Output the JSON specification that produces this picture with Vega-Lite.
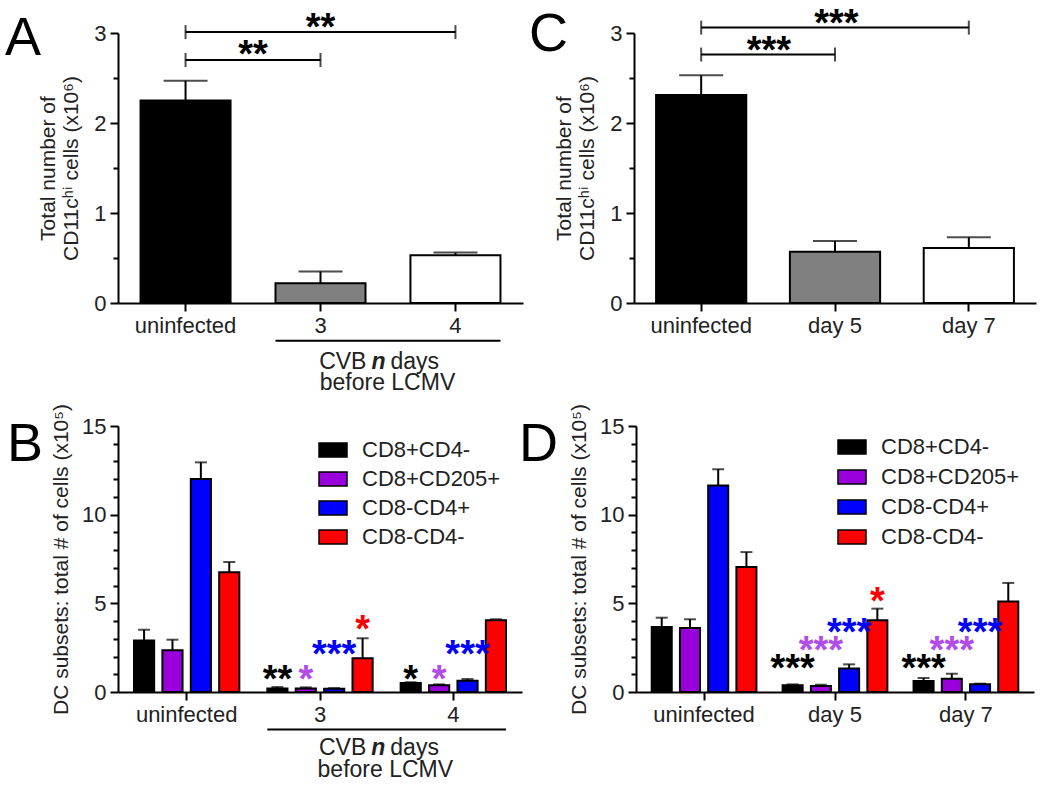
{
  "$schema": "https://vega.github.io/schema/vega-lite/v6.json",
  "background": "white",
  "padding": {"left": 5, "top": 5, "right": 5, "bottom": 5},
  "config": {
    "font": "Liberation Sans",
    "view": {"stroke": null},
    "axis": {
      "labelFont": "Liberation Sans", "labelFontSize": 22, "labelColor": "#222222",
      "titleFont": "Liberation Sans", "titleFontSize": 21, "titleFontWeight": "normal", "titleColor": "#222222",
      "domainColor": "black", "domainWidth": 2, "tickColor": "black", "tickWidth": 2, "tickSize": 8,
      "grid": false, "labelPadding": 4
    },
    "title": {"font": "Liberation Sans", "fontWeight": "normal", "color": "black", "fontSize": 54, "anchor": "start", "frame": "group", "offset": 0}
  },
  "datasets": {
    "a": [
      {"g": "uninfected", "v": 2.25, "e": 2.47},
      {"g": "3", "v": 0.22, "e": 0.35},
      {"g": "4", "v": 0.53, "e": 0.56}
    ],
    "abr": [
      {"x1": "uninfected", "x2": "3", "y": 2.70, "sy": 2.83, "lab": "**"},
      {"x1": "uninfected", "x2": "4", "y": 3.01, "sy": 3.13, "lab": "**"}
    ],
    "aann": [{"g1": "3", "g2": "4", "ry": -0.42, "ty1": -0.656, "ty2": -0.89, "t1": "CVB", "t2": "n", "t3": "days", "t4": "before LCMV"}],
    "c": [
      {"g": "uninfected", "v": 2.31, "e": 2.53},
      {"g": "day 5", "v": 0.57, "e": 0.69},
      {"g": "day 7", "v": 0.61, "e": 0.73}
    ],
    "cbr": [
      {"x1": "uninfected", "x2": "day 5", "y": 2.76, "sy": 2.88, "lab": "***"},
      {"x1": "uninfected", "x2": "day 7", "y": 3.06, "sy": 3.18, "lab": "***"}
    ],
    "b": [
      {"g": "uninfected", "s": "CD8+CD4-", "v": 2.91, "e": 3.51},
      {"g": "uninfected", "s": "CD8+CD205+", "v": 2.35, "e": 2.95},
      {"g": "uninfected", "s": "CD8-CD4+", "v": 12.01, "e": 12.95},
      {"g": "uninfected", "s": "CD8-CD4-", "v": 6.75, "e": 7.33},
      {"g": "3", "s": "CD8+CD4-", "v": 0.2, "e": 0.28},
      {"g": "3", "s": "CD8+CD205+", "v": 0.2, "e": 0.26},
      {"g": "3", "s": "CD8-CD4+", "v": 0.18, "e": 0.22},
      {"g": "3", "s": "CD8-CD4-", "v": 1.9, "e": 3.03},
      {"g": "4", "s": "CD8+CD4-", "v": 0.51, "e": 0.55},
      {"g": "4", "s": "CD8+CD205+", "v": 0.38, "e": 0.43},
      {"g": "4", "s": "CD8-CD4+", "v": 0.64, "e": 0.73},
      {"g": "4", "s": "CD8-CD4-", "v": 4.04, "e": 4.1}
    ],
    "bs": [
      {"g": "3", "s": "CD8+CD4-", "lab": "**", "y": 1.16},
      {"g": "3", "s": "CD8+CD205+", "lab": "*", "y": 1.16},
      {"g": "3", "s": "CD8-CD4+", "lab": "***", "y": 2.57},
      {"g": "3", "s": "CD8-CD4-", "lab": "*", "y": 3.98},
      {"g": "4", "s": "CD8+CD4-", "lab": "*", "y": 1.16},
      {"g": "4", "s": "CD8+CD205+", "lab": "*", "y": 1.16},
      {"g": "4", "s": "CD8-CD4+", "lab": "***", "y": 2.57}
    ],
    "bann": [{"g1": "3", "g2": "4", "ry": -2.12, "ty1": -3.15, "ty2": -4.38, "t1": "CVB", "t2": "n", "t3": "days", "t4": "before LCMV"}],
    "d": [
      {"g": "uninfected", "s": "CD8+CD4-", "v": 3.67, "e": 4.19},
      {"g": "uninfected", "s": "CD8+CD205+", "v": 3.61, "e": 4.1},
      {"g": "uninfected", "s": "CD8-CD4+", "v": 11.65, "e": 12.56},
      {"g": "uninfected", "s": "CD8-CD4-", "v": 7.05, "e": 7.89},
      {"g": "day 5", "s": "CD8+CD4-", "v": 0.38, "e": 0.43},
      {"g": "day 5", "s": "CD8+CD205+", "v": 0.34, "e": 0.41},
      {"g": "day 5", "s": "CD8-CD4+", "v": 1.32, "e": 1.56},
      {"g": "day 5", "s": "CD8-CD4-", "v": 4.04, "e": 4.7},
      {"g": "day 7", "s": "CD8+CD4-", "v": 0.62, "e": 0.79},
      {"g": "day 7", "s": "CD8+CD205+", "v": 0.75, "e": 1.03},
      {"g": "day 7", "s": "CD8-CD4+", "v": 0.43, "e": 0.47},
      {"g": "day 7", "s": "CD8-CD4-", "v": 5.11, "e": 6.15}
    ],
    "ds": [
      {"g": "day 5", "s": "CD8+CD4-", "lab": "***", "y": 1.79},
      {"g": "day 5", "s": "CD8+CD205+", "lab": "***", "y": 2.82},
      {"g": "day 5", "s": "CD8-CD4+", "lab": "***", "y": 3.85},
      {"g": "day 5", "s": "CD8-CD4-", "lab": "*", "y": 5.58},
      {"g": "day 7", "s": "CD8+CD4-", "lab": "***", "y": 1.79},
      {"g": "day 7", "s": "CD8+CD205+", "lab": "***", "y": 2.82},
      {"g": "day 7", "s": "CD8-CD4+", "lab": "***", "y": 3.85}
    ]
  },
  "spacing": 7,
  "resolve": {"scale": {"fill": "independent", "color": "independent", "x": "independent", "y": "independent"}, "legend": {"fill": "independent", "color": "independent"}},
  "vconcat": [
    {
      "spacing": 6,
      "resolve": {"scale": {"fill": "independent", "color": "independent", "x": "independent", "y": "independent"}, "legend": {"fill": "independent", "color": "independent"}},
      "hconcat": [
        {
          "width": 405, "height": 270,
          "title": {"text": "A", "dx": -113, "dy": 60},
          "resolve": {"axis": {"y": "independent", "x": "independent"}},
          "layer": [
            {"data": {"name": "a"}, "mark": {"type": "rule", "strokeWidth": 2, "color": "black"},
             "encoding": {
               "x": {"field": "g", "type": "nominal", "scale": {"domain": ["uninfected", "3", "4"], "paddingInner": 0.333, "paddingOuter": 0.167}, "axis": {"title": null, "labelAngle": 0, "bandPosition": 0.5}},
               "y": {"field": "v", "type": "quantitative", "scale": {"domain": [0, 3], "nice": false}, "axis": {"orient": "left", "title": ["Total number of", "CD11cʰⁱ cells (x10⁶)"], "values": [0, 1, 2, 3], "format": "d", "titlePadding": 12}},
               "y2": {"field": "e"}}},
            {"data": {"name": "a"}, "mark": {"type": "tick", "orient": "horizontal", "size": 44, "thickness": 2, "color": "black"},
             "encoding": {"x": {"field": "g", "type": "nominal", "axis": null}, "y": {"field": "e", "type": "quantitative", "axis": {"orient": "left", "values": [0.5, 1.5, 2.5], "labels": false, "domain": false, "tickSize": 5, "title": null}}}},
            {"data": {"name": "a"}, "mark": {"type": "bar", "stroke": "black", "strokeWidth": 2},
             "encoding": {"x": {"field": "g", "type": "nominal", "axis": null}, "y": {"field": "v", "type": "quantitative", "axis": null},
               "fill": {"field": "g", "type": "nominal", "scale": {"domain": ["uninfected", "3", "4"], "range": ["#000000", "#808080", "#ffffff"]}, "legend": null}}},
            {"data": {"name": "abr"}, "mark": {"type": "rule", "strokeWidth": 2, "color": "black"},
             "encoding": {"x": {"field": "x1", "type": "nominal", "bandPosition": 0.5, "axis": null}, "x2": {"field": "x2", "bandPosition": 0.5}, "y": {"field": "y", "type": "quantitative", "axis": null}}},
            {"data": {"name": "abr"}, "transform": [{"fold": ["x1", "x2"], "as": ["end", "xe"]}], "mark": {"type": "tick", "orient": "vertical", "size": 14, "thickness": 2, "color": "black"},
             "encoding": {"x": {"field": "xe", "type": "nominal", "axis": null}, "y": {"field": "y", "type": "quantitative", "axis": null}}},
            {"data": {"name": "abr"}, "transform": [{"filter": "datum.y < 2.9"}], "mark": {"type": "text", "fontSize": 38, "fontWeight": "bold", "baseline": "middle", "dy": 8, "color": "black"},
             "encoding": {"x": {"field": "x1", "type": "nominal", "bandPosition": 1.25, "axis": null}, "y": {"field": "sy", "type": "quantitative", "axis": null}, "text": {"field": "lab"}}},
            {"data": {"name": "abr"}, "transform": [{"filter": "datum.y >= 2.9"}], "mark": {"type": "text", "fontSize": 38, "fontWeight": "bold", "baseline": "middle", "dy": 8, "color": "black"},
             "encoding": {"x": {"field": "x1", "type": "nominal", "bandPosition": 2.0, "axis": null}, "y": {"field": "sy", "type": "quantitative", "axis": null}, "text": {"field": "lab"}}},
            {"data": {"name": "aann"}, "mark": {"type": "rule", "strokeWidth": 2, "color": "black"},
             "encoding": {"x": {"field": "g1", "type": "nominal", "bandPosition": 0, "axis": null}, "x2": {"field": "g2", "bandPosition": 1}, "y": {"field": "ry", "type": "quantitative", "axis": null}}},
            {"data": {"name": "aann"}, "mark": {"type": "text", "fontSize": 23, "align": "right", "baseline": "middle", "dx": -21, "color": "#222222"},
             "encoding": {"x": {"field": "g1", "type": "nominal", "bandPosition": 1.244, "axis": null}, "y": {"field": "ty1", "type": "quantitative", "axis": null}, "text": {"field": "t1"}}},
            {"data": {"name": "aann"}, "mark": {"type": "text", "fontSize": 23, "align": "center", "baseline": "middle", "dx": -9, "fontWeight": "bold", "fontStyle": "italic", "color": "#222222"},
             "encoding": {"x": {"field": "g1", "type": "nominal", "bandPosition": 1.244, "axis": null}, "y": {"field": "ty1", "type": "quantitative", "axis": null}, "text": {"field": "t2"}}},
            {"data": {"name": "aann"}, "mark": {"type": "text", "fontSize": 23, "align": "left", "baseline": "middle", "dx": 3, "color": "#222222"},
             "encoding": {"x": {"field": "g1", "type": "nominal", "bandPosition": 1.244, "axis": null}, "y": {"field": "ty1", "type": "quantitative", "axis": null}, "text": {"field": "t3"}}},
            {"data": {"name": "aann"}, "mark": {"type": "text", "fontSize": 23, "align": "center", "baseline": "middle", "color": "#222222"},
             "encoding": {"x": {"field": "g1", "type": "nominal", "bandPosition": 1.244, "axis": null}, "y": {"field": "ty2", "type": "quantitative", "axis": null}, "text": {"field": "t4"}}}
          ]
        },
        {
          "width": 402, "height": 270,
          "title": {"text": "C", "dx": -105, "dy": 60},
          "resolve": {"axis": {"y": "independent", "x": "independent"}},
          "layer": [
            {"data": {"name": "c"}, "mark": {"type": "rule", "strokeWidth": 2, "color": "black"},
             "encoding": {
               "x": {"field": "g", "type": "nominal", "scale": {"domain": ["uninfected", "day 5", "day 7"], "paddingInner": 0.326, "paddingOuter": 0.165}, "axis": {"title": null, "labelAngle": 0, "bandPosition": 0.5}},
               "y": {"field": "v", "type": "quantitative", "scale": {"domain": [0, 3], "nice": false}, "axis": {"orient": "left", "title": ["Total number of", "CD11cʰⁱ cells (x10⁶)"], "values": [0, 1, 2, 3], "format": "d", "titlePadding": 12}},
               "y2": {"field": "e"}}},
            {"data": {"name": "c"}, "mark": {"type": "tick", "orient": "horizontal", "size": 44, "thickness": 2, "color": "black"},
             "encoding": {"x": {"field": "g", "type": "nominal", "axis": null}, "y": {"field": "e", "type": "quantitative", "axis": {"orient": "left", "values": [0.5, 1.5, 2.5], "labels": false, "domain": false, "tickSize": 5, "title": null}}}},
            {"data": {"name": "c"}, "mark": {"type": "bar", "stroke": "black", "strokeWidth": 2},
             "encoding": {"x": {"field": "g", "type": "nominal", "axis": null}, "y": {"field": "v", "type": "quantitative", "axis": null},
               "fill": {"field": "g", "type": "nominal", "scale": {"domain": ["uninfected", "day 5", "day 7"], "range": ["#000000", "#808080", "#ffffff"]}, "legend": null}}},
            {"data": {"name": "cbr"}, "mark": {"type": "rule", "strokeWidth": 2, "color": "black"},
             "encoding": {"x": {"field": "x1", "type": "nominal", "bandPosition": 0.5, "axis": null}, "x2": {"field": "x2", "bandPosition": 0.5}, "y": {"field": "y", "type": "quantitative", "axis": null}}},
            {"data": {"name": "cbr"}, "transform": [{"fold": ["x1", "x2"], "as": ["end", "xe"]}], "mark": {"type": "tick", "orient": "vertical", "size": 14, "thickness": 2, "color": "black"},
             "encoding": {"x": {"field": "xe", "type": "nominal", "axis": null}, "y": {"field": "y", "type": "quantitative", "axis": null}}},
            {"data": {"name": "cbr"}, "transform": [{"filter": "datum.y < 2.9"}], "mark": {"type": "text", "fontSize": 38, "fontWeight": "bold", "baseline": "middle", "dy": 8, "color": "black"},
             "encoding": {"x": {"field": "x1", "type": "nominal", "bandPosition": 1.25, "axis": null}, "y": {"field": "sy", "type": "quantitative", "axis": null}, "text": {"field": "lab"}}},
            {"data": {"name": "cbr"}, "transform": [{"filter": "datum.y >= 2.9"}], "mark": {"type": "text", "fontSize": 38, "fontWeight": "bold", "baseline": "middle", "dy": 8, "color": "black"},
             "encoding": {"x": {"field": "x1", "type": "nominal", "bandPosition": 2.0, "axis": null}, "y": {"field": "sy", "type": "quantitative", "axis": null}, "text": {"field": "lab"}}}
          ]
        }
      ]
    },
    {
      "spacing": -3,
      "resolve": {"scale": {"fill": "independent", "color": "independent", "x": "independent", "y": "independent", "xOffset": "independent"}, "legend": {"fill": "independent", "color": "independent"}},
      "hconcat": [
        {
          "width": 404, "height": 266,
          "title": {"text": "B", "dx": -111, "dy": 72},
          "resolve": {"axis": {"y": "independent", "x": "independent"}},
          "layer": [
            {"data": {"name": "b"}, "mark": {"type": "rule", "strokeWidth": 2, "color": "black"},
             "encoding": {
               "x": {"field": "g", "type": "nominal", "scale": {"domain": ["uninfected", "3", "4"], "paddingInner": 0.21, "paddingOuter": 0.12}, "axis": {"title": null, "labelAngle": 0, "bandPosition": 0.5}},
               "xOffset": {"field": "s", "type": "nominal", "scale": {"domain": ["CD8+CD4-", "CD8+CD205+", "CD8-CD4+", "CD8-CD4-"], "paddingInner": 0.29, "paddingOuter": 0}},
               "y": {"field": "v", "type": "quantitative", "scale": {"domain": [0, 15], "nice": false}, "axis": {"orient": "left", "title": "DC subsets: total # of cells (x10⁵)", "values": [0, 5, 10, 15], "format": "d", "titlePadding": 10}},
               "y2": {"field": "e"}}},
            {"data": {"name": "b"}, "mark": {"type": "tick", "orient": "horizontal", "size": 12, "thickness": 2, "color": "black"},
             "encoding": {"x": {"field": "g", "type": "nominal", "axis": null}, "xOffset": {"field": "s", "type": "nominal"}, "y": {"field": "e", "type": "quantitative", "axis": {"orient": "left", "values": [1, 2, 3, 4, 6, 7, 8, 9, 11, 12, 13, 14], "labels": false, "domain": false, "tickSize": 5, "title": null}}}},
            {"data": {"name": "b"}, "mark": {"type": "bar", "stroke": "black", "strokeWidth": 2},
             "encoding": {"x": {"field": "g", "type": "nominal", "axis": null}, "xOffset": {"field": "s", "type": "nominal"}, "y": {"field": "v", "type": "quantitative", "axis": null},
               "fill": {"field": "s", "type": "nominal", "scale": {"domain": ["CD8+CD4-", "CD8+CD205+", "CD8-CD4+", "CD8-CD4-"], "range": ["#000000", "#9a00dc", "#0000ff", "#ff0000"]},
                 "legend": {"orient": "none", "legendX": 200, "legendY": 9, "title": null, "symbolType": "M-1,-0.5L1,-0.5L1,0.5L-1,0.5Z", "symbolSize": 784, "symbolStrokeColor": "black", "symbolStrokeWidth": 1.5, "labelFontSize": 22, "labelColor": "#222222", "labelOffset": 14, "rowPadding": 3}}}},
            {"data": {"name": "bs"}, "mark": {"type": "text", "fontSize": 38, "fontWeight": "bold", "baseline": "middle", "dy": 10},
             "encoding": {"x": {"field": "g", "type": "nominal", "axis": null}, "xOffset": {"field": "s", "type": "nominal"}, "y": {"field": "y", "type": "quantitative", "axis": null}, "text": {"field": "lab"},
               "color": {"field": "s", "type": "nominal", "scale": {"domain": ["CD8+CD4-", "CD8+CD205+", "CD8-CD4+", "CD8-CD4-"], "range": ["#000000", "#b24ce8", "#0000ff", "#ff0000"]}, "legend": null}}},
            {"data": {"name": "bann"}, "mark": {"type": "rule", "strokeWidth": 2, "color": "black"},
             "encoding": {"x": {"field": "g1", "type": "nominal", "bandPosition": 0, "axis": null}, "x2": {"field": "g2", "bandPosition": 1}, "y": {"field": "ry", "type": "quantitative", "axis": null}}},
            {"data": {"name": "bann"}, "mark": {"type": "text", "fontSize": 23, "align": "right", "baseline": "middle", "dx": -19, "color": "#222222"},
             "encoding": {"x": {"field": "g1", "type": "nominal", "bandPosition": 1.12, "axis": null}, "y": {"field": "ty1", "type": "quantitative", "axis": null}, "text": {"field": "t1"}}},
            {"data": {"name": "bann"}, "mark": {"type": "text", "fontSize": 23, "align": "center", "baseline": "middle", "dx": -7, "fontWeight": "bold", "fontStyle": "italic", "color": "#222222"},
             "encoding": {"x": {"field": "g1", "type": "nominal", "bandPosition": 1.12, "axis": null}, "y": {"field": "ty1", "type": "quantitative", "axis": null}, "text": {"field": "t2"}}},
            {"data": {"name": "bann"}, "mark": {"type": "text", "fontSize": 23, "align": "left", "baseline": "middle", "dx": 5, "color": "#222222"},
             "encoding": {"x": {"field": "g1", "type": "nominal", "bandPosition": 1.12, "axis": null}, "y": {"field": "ty1", "type": "quantitative", "axis": null}, "text": {"field": "t3"}}},
            {"data": {"name": "bann"}, "mark": {"type": "text", "fontSize": 23, "align": "center", "baseline": "middle", "color": "#222222"},
             "encoding": {"x": {"field": "g1", "type": "nominal", "bandPosition": 1.12, "axis": null}, "y": {"field": "ty2", "type": "quantitative", "axis": null}, "text": {"field": "t4"}}}
          ]
        },
        {
          "width": 398, "height": 266,
          "title": {"text": "D", "dx": -117, "dy": 72},
          "resolve": {"axis": {"y": "independent", "x": "independent"}},
          "layer": [
            {"data": {"name": "d"}, "mark": {"type": "rule", "strokeWidth": 2, "color": "black"},
             "encoding": {
               "x": {"field": "g", "type": "nominal", "scale": {"domain": ["uninfected", "day 5", "day 7"], "paddingInner": 0.2, "paddingOuter": 0.12}, "axis": {"title": null, "labelAngle": 0, "bandPosition": 0.5}},
               "xOffset": {"field": "s", "type": "nominal", "scale": {"domain": ["CD8+CD4-", "CD8+CD205+", "CD8-CD4+", "CD8-CD4-"], "paddingInner": 0.29, "paddingOuter": 0}},
               "y": {"field": "v", "type": "quantitative", "scale": {"domain": [0, 15], "nice": false}, "axis": {"orient": "left", "title": "DC subsets: total # of cells (x10⁵)", "values": [0, 5, 10, 15], "format": "d", "titlePadding": 10}},
               "y2": {"field": "e"}}},
            {"data": {"name": "d"}, "mark": {"type": "tick", "orient": "horizontal", "size": 12, "thickness": 2, "color": "black"},
             "encoding": {"x": {"field": "g", "type": "nominal", "axis": null}, "xOffset": {"field": "s", "type": "nominal"}, "y": {"field": "e", "type": "quantitative", "axis": {"orient": "left", "values": [1, 2, 3, 4, 6, 7, 8, 9, 11, 12, 13, 14], "labels": false, "domain": false, "tickSize": 5, "title": null}}}},
            {"data": {"name": "d"}, "mark": {"type": "bar", "stroke": "black", "strokeWidth": 2},
             "encoding": {"x": {"field": "g", "type": "nominal", "axis": null}, "xOffset": {"field": "s", "type": "nominal"}, "y": {"field": "v", "type": "quantitative", "axis": null},
               "fill": {"field": "s", "type": "nominal", "scale": {"domain": ["CD8+CD4-", "CD8+CD205+", "CD8-CD4+", "CD8-CD4-"], "range": ["#000000", "#9a00dc", "#0000ff", "#ff0000"]},
                 "legend": {"orient": "none", "legendX": 201, "legendY": 6, "title": null, "symbolType": "M-1,-0.5L1,-0.5L1,0.5L-1,0.5Z", "symbolSize": 784, "symbolStrokeColor": "black", "symbolStrokeWidth": 1.5, "labelFontSize": 22, "labelColor": "#222222", "labelOffset": 14, "rowPadding": 4}}}},
            {"data": {"name": "ds"}, "mark": {"type": "text", "fontSize": 38, "fontWeight": "bold", "baseline": "middle", "dy": 10},
             "encoding": {"x": {"field": "g", "type": "nominal", "axis": null}, "xOffset": {"field": "s", "type": "nominal"}, "y": {"field": "y", "type": "quantitative", "axis": null}, "text": {"field": "lab"},
               "color": {"field": "s", "type": "nominal", "scale": {"domain": ["CD8+CD4-", "CD8+CD205+", "CD8-CD4+", "CD8-CD4-"], "range": ["#000000", "#b24ce8", "#0000ff", "#ff0000"]}, "legend": null}}}
          ]
        }
      ]
    }
  ]
}
